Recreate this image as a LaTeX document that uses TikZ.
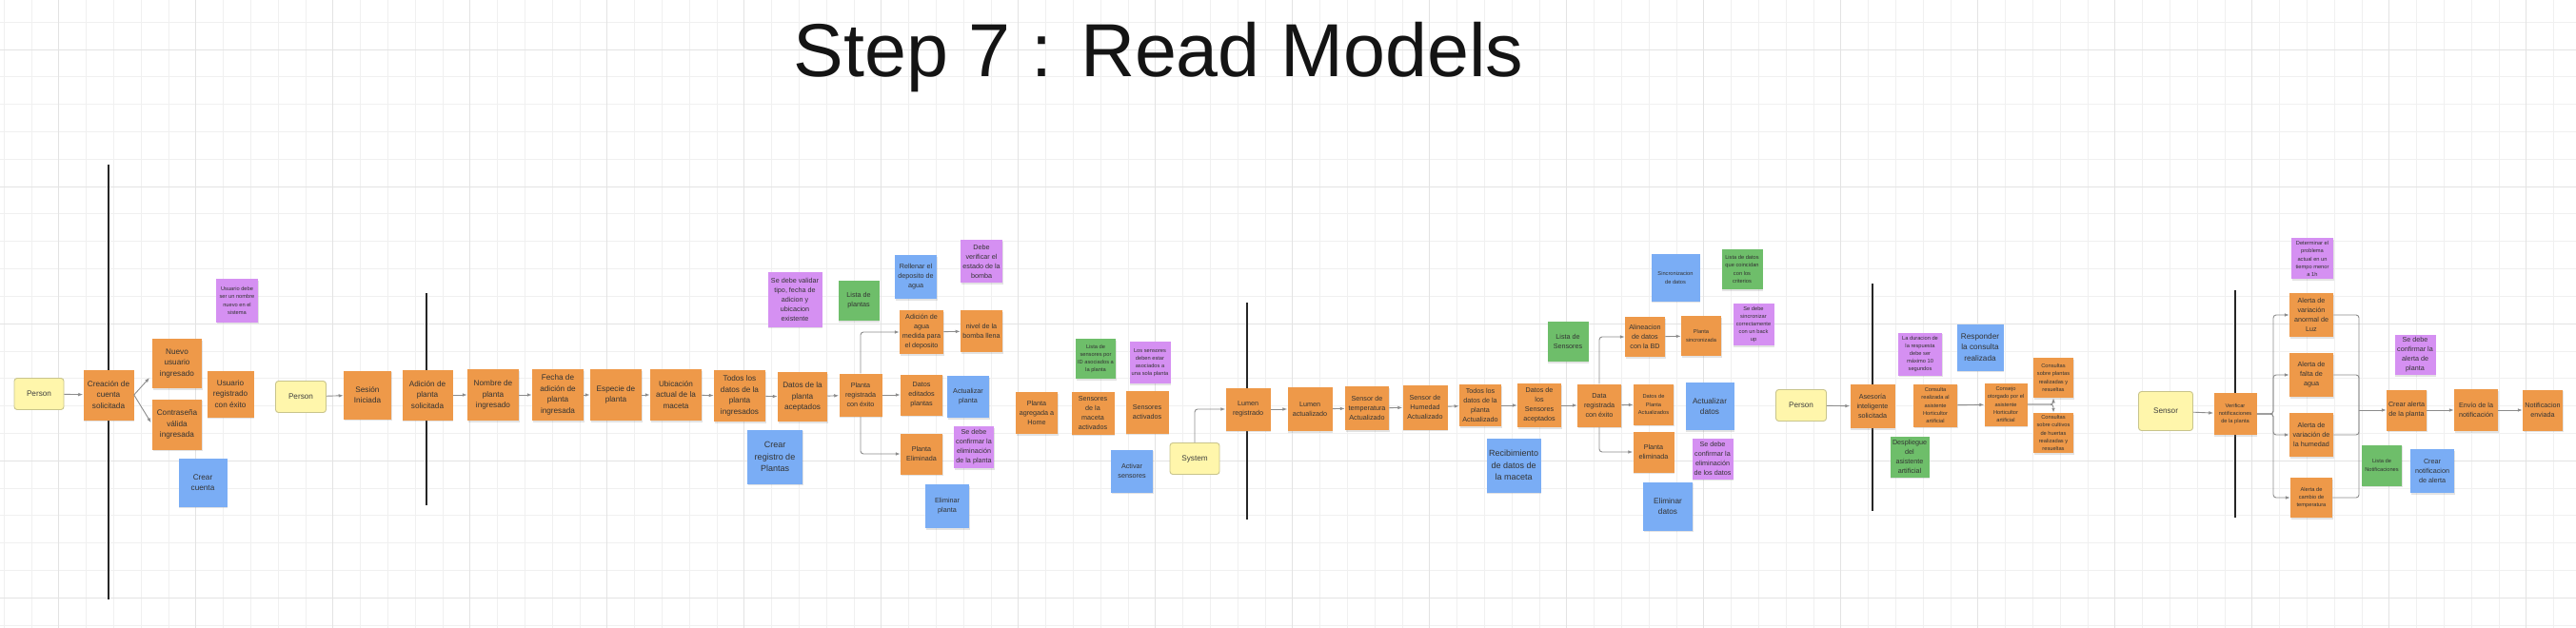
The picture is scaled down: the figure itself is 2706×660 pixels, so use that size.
\documentclass[tikz,border=0pt]{standalone}
\usepackage{fontspec}
\setmainfont{Liberation Sans}
\usepackage{tikz}
\usetikzlibrary{arrows.meta,shadows}
\definecolor{evtorange}{RGB}{238,153,73}
\definecolor{cmdblue}{RGB}{122,173,245}
\definecolor{polpurple}{RGB}{213,144,242}
\definecolor{rmgreen}{RGB}{110,190,106}
\definecolor{actyellow}{RGB}{255,246,171}
\definecolor{actborder}{RGB}{200,196,140}

\begin{document}
\begin{tikzpicture}[
  x=1pt, y=-1pt, line width=0.5pt,
  gridminor/.style={draw=black!6, line width=0.6pt},
  gridmajor/.style={draw=black!11, line width=0.9pt},
  phaseline/.style={draw=black!85, line width=2pt},
  note/.style={align=center, inner sep=1pt, text=black!80,
               drop shadow={opacity=0.22, shadow xshift=0.6pt, shadow yshift=-1.6pt}},
  evt/.style={note, fill=evtorange},
  cmd/.style={note, fill=cmdblue},
  policy/.style={note, fill=polpurple},
  readmodel/.style={note, fill=rmgreen},
  actor/.style={fill=actyellow, draw=actborder, line width=0.9pt, rounded corners=3pt,
                text=black!75, font=\fontsize{8.2}{10}\selectfont},
  sz/.style 2 args={minimum width=#1pt, minimum height=#2pt},
  fB/.style={font=\fontsize{9}{12.3}\selectfont},
  fA/.style={font=\fontsize{8.2}{11.5}\selectfont},
  fC/.style={font=\fontsize{7.2}{10}\selectfont},
  fD/.style={font=\fontsize{5.7}{8.1}\selectfont},
  arr/.style={-{Latex[length=5pt,width=3.6pt]}, draw=black!45, line width=0.9pt,
              rounded corners=3pt},
  joinline/.style={draw=black!45, line width=0.9pt, rounded corners=3pt}
]
  % Background and grid
  \fill[white] (0,0) rectangle (2706,660);
  \useasboundingbox (0,0) rectangle (2706,660);
  \foreach \i in {0,...,93} \draw[gridminor] ({4.1+28.8*\i},0) -- ({4.1+28.8*\i},660);
  \foreach \j in {0,...,22} \draw[gridminor] (0,{23.2+28.8*\j}) -- (2706,{23.2+28.8*\j});
  \foreach \i in {0,...,18} \draw[gridmajor] ({61.7+144*\i},0) -- ({61.7+144*\i},660);
  \foreach \j in {0,...,4} \draw[gridmajor] (0,{52+144*\j}) -- (2706,{52+144*\j});

  % Title
  \node[font=\fontsize{79}{90}\selectfont, anchor=base, text=black!92] (title)
       at (1217,81) {Step 7 : Read Models};

  % Phase lines
  \draw[phaseline] (114,173) -- (114,630);
  \draw[phaseline] (448,308) -- (448,531);
  \draw[phaseline] (1310,318) -- (1310,546);
  \draw[phaseline] (1967,298) -- (1967,537);
  \draw[phaseline] (2348,305) -- (2348,544);

  % Account creation
  \node[actor, sz={52}{33}] (per1) at (41,414) {Person};
  \node[evt, sz={53}{53}, fA] (crc) at (114,415) {Creación de\\cuenta\\solicitada};
  \node[evt, sz={52}{52}, fA] (nui) at (186,382) {Nuevo\\usuario\\ingresado};
  \node[evt, sz={52}{53}, fA] (cvi) at (186,446) {Contraseña\\válida\\ingresada};
  \node[cmd, sz={51}{51}, fA] (crcta) at (213,507) {Crear\\cuenta};
  \node[policy, sz={44}{45}, fD] (polusr) at (249,316)
       {Usuario debe\\ser un nombre\\nuevo en el\\sistema};
  \node[evt, sz={49}{49}, fA] (ure) at (242,414) {Usuario\\registrado\\con éxito};

  % Plant registration
  \node[actor, sz={53}{33}] (per2) at (316,417) {Person};
  \node[evt, sz={50}{51}, fA] (ses) at (386,415) {Sesión\\Iniciada};
  \node[evt, sz={53}{53}, fA] (adp) at (449,415) {Adición de\\planta\\solicitada};
  \node[evt, sz={54}{54}, fA] (nom) at (518,415) {Nombre de\\planta\\ingresado};
  \node[evt, sz={54}{54}, fA] (fec) at (586,415) {Fecha de\\adición de\\planta\\ingresada};
  \node[evt, sz={54}{54}, fA] (esp) at (647,415) {Especie de\\planta};
  \node[evt, sz={54}{54}, fA] (ubi) at (710,415) {Ubicación\\actual de la\\maceta};
  \node[evt, sz={54}{54}, fA] (tdi) at (777,416) {Todos los\\datos de la\\planta\\ingresados};
  \node[evt, sz={52}{52}, fA] (dpa) at (843,417) {Datos de la\\planta\\aceptados};
  \node[policy, sz={57}{57}, fC] (polval) at (835,315)
       {Se debe validar\\tipo, fecha de\\adicion y\\ubicacion\\existente};
  \node[cmd, sz={58}{57}, fB] (crreg) at (814,480) {Crear\\registro de\\Plantas};
  \node[readmodel, sz={43}{42}, fC] (lstp) at (902,316) {Lista de\\plantas};
  \node[evt, sz={45}{45}, fC] (preg) at (904,415) {Planta\\registrada\\con éxito};

  % Plant maintenance
  \node[cmd, sz={44}{46}, fC] (rell) at (962,291) {Rellenar el\\deposito de\\agua};
  \node[policy, sz={44}{45}, fC] (polbom) at (1031,275) {Debe\\verificar el\\estado de la\\bomba};
  \node[evt, sz={46}{46}, fC] (agua) at (968,349) {Adición de\\agua\\medida para\\el deposito};
  \node[evt, sz={44}{44}, fC] (nivel) at (1031,348) {nivel de la\\bomba llena};
  \node[evt, sz={44}{43}, fC] (edit) at (968,415) {Datos\\editados\\plantas};
  \node[cmd, sz={44}{44}, fC] (actp) at (1017,417) {Actualizar\\planta};
  \node[evt, sz={44}{43}, fC] (pelim) at (968,477) {Planta\\Eliminada};
  \node[policy, sz={42}{44}, fC] (polelp) at (1023,470)
       {Se debe\\confirmar la\\eliminación\\de la planta};
  \node[cmd, sz={46}{46}, fC] (elimp) at (995,532) {Eliminar\\planta};

  % Sensors
  \node[evt, sz={44}{44}, fC] (home) at (1089,434) {Planta\\agregada a\\Home};
  \node[readmodel, sz={42}{42}, fD] (lsid) at (1151,377)
       {Lista de\\sensores por\\ID asociados a\\la planta};
  \node[evt, sz={45}{45}, fC] (smac) at (1148,434) {Sensores\\de la\\maceta\\activados};
  \node[policy, sz={43}{44}, fD] (polsen) at (1208,381)
       {Los sensores\\deben estar\\asociados a\\una sola planta};
  \node[evt, sz={45}{45}, fC] (sact) at (1205,433) {Sensores\\activados};
  \node[cmd, sz={44}{45}, fC] (actsen) at (1189,495) {Activar\\sensores};

  % Sensor readings
  \node[actor, sz={52}{33}] (sys) at (1255,482) {System};
  \node[evt, sz={47}{45}, fC] (lreg) at (1311,430) {Lumen\\registrado};
  \node[evt, sz={47}{46}, fC] (lact) at (1376,430) {Lumen\\actualizado};
  \node[evt, sz={46}{46}, fC] (stemp) at (1436,429) {Sensor de\\temperatura\\Actualizado};
  \node[evt, sz={47}{47}, fC] (shum) at (1497,428) {Sensor de\\Humedad\\Actualizado};
  \node[evt, sz={44}{44}, fC] (tdact) at (1555,426) {Todos los\\datos de la\\planta\\Actualizado};
  \node[cmd, sz={57}{57}, fB] (recd) at (1590,489) {Recibimiento\\de datos de\\la maceta};
  \node[evt, sz={46}{46}, fC] (dsac) at (1617,426) {Datos de\\los\\Sensores\\aceptados};
  \node[readmodel, sz={43}{42}, fC] (lsen) at (1647,359) {Lista de\\Sensores};
  \node[evt, sz={46}{45}, fC] (dreg) at (1680,426) {Data\\registrada\\con éxito};
  \node[evt, sz={42}{42}, fC] (alin) at (1728,354) {Alineacion\\de datos\\con la BD};
  \node[evt, sz={42}{42}, fD] (psin) at (1787,353) {Planta\\sincronizada};
  \node[cmd, sz={51}{49}, fD] (sinc) at (1760,292) {Sincronizacion\\de datos};
  \node[readmodel, sz={43}{42}, fD] (lcrit) at (1830,283)
       {Lista de datos\\que coincidan\\con los\\criterios};
  \node[policy, sz={43}{44}, fD] (polsync) at (1842,341)
       {Se debe\\sincronizar\\correctamente\\con un back\\up};
  \node[evt, sz={42}{43}, fD] (dpact) at (1737,425) {Datos de\\Planta\\Actualizados};
  \node[cmd, sz={51}{50}, fA] (actd) at (1796,427) {Actualizar\\datos};
  \node[evt, sz={43}{43}, fC] (pelm) at (1737,475) {Planta\\eliminada};
  \node[policy, sz={43}{43}, fC] (poleld) at (1799,482)
       {Se debe\\confirmar la\\eliminación\\de los datos};
  \node[cmd, sz={52}{51}, fA] (elimd) at (1752,532) {Eliminar\\datos};

  % Assistant
  \node[actor, sz={53}{33}] (per3) at (1892,426) {Person};
  \node[evt, sz={47}{46}, fC] (ases) at (1967,427) {Asesoría\\inteligente\\solicitada};
  \node[readmodel, sz={41}{43}, fC] (depl) at (2006,480) {Despliegue\\del\\asistente\\artificial};
  \node[policy, sz={46}{45}, fD] (poldur) at (2017,372)
       {La duracion de\\la respuesta\\debe ser\\máximo 10\\segundos};
  \node[evt, sz={46}{45}, fD] (creal) at (2033,426)
       {Consulta\\realizada al\\asistente\\Horticultor\\artificial};
  \node[cmd, sz={49}{49}, fA] (resp) at (2080,365) {Responder\\la consulta\\realizada};
  \node[evt, sz={45}{45}, fD] (cons) at (2107,425)
       {Consejo\\otorgado por el\\asistente\\Horticultor\\artificial};
  \node[evt, sz={42}{42}, fD] (qpl) at (2157,397)
       {Consultas\\sobre plantas\\realizadas y\\resueltas};
  \node[evt, sz={42}{42}, fD] (qcu) at (2157,455)
       {Consultas\\sobre cultivos\\de huertas\\realizadas y\\resueltas};

  % Notifications
  \node[actor, sz={57}{41}] (sen) at (2275,432) {Sensor};
  \node[evt, sz={45}{44}, fD] (verif) at (2348,435) {Verificar\\notificaciones\\de la planta};
  \node[policy, sz={44}{43}, fD] (polprob) at (2429,272)
       {Determinar el\\problema\\actual en un\\tiempo menor\\a 1h};
  \node[evt, sz={46}{46}, fC] (aluz) at (2428,331) {Alerta de\\variación\\anormal de\\Luz};
  \node[evt, sz={46}{46}, fC] (aagua) at (2428,394) {Alerta de\\falta de\\agua};
  \node[evt, sz={46}{46}, fC] (ahum) at (2428,457) {Alerta de\\variación de\\la humedad};
  \node[evt, sz={44}{42}, fD] (atemp) at (2428,523) {Alerta de\\cambio de\\temperatura};
  \node[evt, sz={42}{43}, fC] (calerta) at (2528,431) {Crear alerta\\de la planta};
  \node[policy, sz={43}{42}, fC] (polal) at (2537,373) {Se debe\\confirmar la\\alerta de\\planta};
  \node[readmodel, sz={42}{43}, fD] (lnot) at (2502,489) {Lista de\\Notificaciones};
  \node[cmd, sz={46}{46}, fC] (crnot) at (2555,495) {Crear\\notificacion\\de alerta};
  \node[evt, sz={46}{44}, fC] (envio) at (2601,431) {Envío de la\\notificación};
  \node[evt, sz={42}{43}, fC] (nenv) at (2671,431) {Notificacion\\enviada};

  \coordinate (vsplit) at (2388,435);
  \coordinate (amerge) at (2478,431);

  % Connectors
  \draw[arr] (per1) -- (crc);
  \draw[arr, shorten >=4pt] (crc.east) -- ([yshift=-12pt]nui.west);
  \draw[arr, shorten >=2pt] (crc.east) -- (cvi.west);
  \draw[arr] (per2) -- (ses);
  \draw[arr] (adp) -- (nom);
  \draw[arr] (nom) -- (fec);
  \draw[arr] (fec) -- (esp);
  \draw[arr] (esp) -- (ubi);
  \draw[arr] (ubi) -- (tdi);
  \draw[arr] (tdi) -- (dpa);
  \draw[arr] (dpa) -- (preg);
  \draw[arr] (preg.north) |- (agua.west);
  \draw[arr] (preg) -- (edit);
  \draw[arr] (preg.south) |- (pelim.west);
  \draw[arr] (agua) -- (nivel);

  \draw[arr] (sys.north) |- (lreg.west);
  \draw[arr] (lreg) -- (lact);
  \draw[arr] (lact) -- (stemp);
  \draw[arr] (stemp) -- (shum);
  \draw[arr] (shum) -- (tdact);
  \draw[arr] (tdact) -- (dsac);
  \draw[arr] (dsac) -- (dreg);
  \draw[arr] (dreg.north) |- (alin.west);
  \draw[arr] (dreg) -- (dpact);
  \draw[arr] (dreg.south) |- (pelm.west);
  \draw[arr] (alin) -- (psin);

  \draw[arr] (per3) -- (ases);
  \draw[arr] (creal) -- (cons);
  \draw[arr] (cons.east) -| (qpl.south);
  \draw[arr] (cons.east) -| (qcu.north);

  \draw[arr] (sen) -- (verif);
  \draw[arr] (verif.east) -- (vsplit) |- (aluz.west);
  \draw[arr] (verif.east) -- (vsplit) |- (aagua.west);
  \draw[arr] (verif.east) -- (vsplit) |- (ahum.west);
  \draw[arr] (verif.east) -- (vsplit) |- (atemp.west);
  \draw[joinline] (aluz.east) -| (amerge);
  \draw[joinline] (aagua.east) -| (amerge);
  \draw[joinline] (ahum.east) -| (amerge);
  \draw[joinline] (atemp.east) -| (amerge);
  \draw[arr] (amerge) -- (calerta);
  \draw[arr] (calerta) -- (envio);
  \draw[arr] (envio) -- (nenv);
\end{tikzpicture}
\end{document}
